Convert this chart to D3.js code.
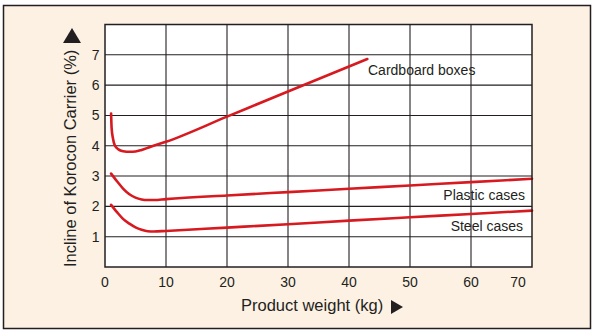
<!DOCTYPE html>
<html><head><meta charset="utf-8">
<script src="https://cdn.jsdelivr.net/npm/d3@7"></script>
<style>
html,body{margin:0;padding:0;background:#fff;}
svg{display:block;font-family:"Liberation Sans",Arial,sans-serif;}
</style></head>
<body><svg id="c" width="595" height="336"></svg>
<script>
// Data
const xTicks = [0,10,20,30,40,50,60,70];
const yTicks = [1,2,3,4,5,6,7];
const cardboardX = [1,1.08,1.3,1.6,2.2,3,4,5,6,7.4,10,20,30,43];
const cardboardY = [5.06,4.6,4.25,4.02,3.88,3.82,3.8,3.81,3.86,3.96,4.13,4.96,5.79,6.86];
const plasticX = [1,2,3,4,5,6,7,8,10,20,30,40,50,60,70];
const plasticY = [3.08,2.82,2.58,2.4,2.29,2.23,2.21,2.21,2.24,2.36,2.47,2.58,2.69,2.8,2.91];
const steelX = [1,2,3,4,5,6,7,8,10,20,30,40,50,60,70];
const steelY = [2.05,1.8,1.58,1.43,1.31,1.23,1.18,1.17,1.19,1.30,1.41,1.53,1.64,1.75,1.86];
const seriesNames = ["Cardboard boxes","Plastic cases","Steel cases"];
const xTitle = "Product weight (kg)";
const yTitle = "Incline of Korocon Carrier (%)";

const svg = d3.select("#c");
const ink = "#231f20", red = "#d71920";
const L=105, R=532, T=24.5, B=267;
const x = d3.scaleLinear().domain([0,70]).range([L,R]);
const y = d3.scaleLinear().domain([0,8]).range([B,T]);

svg.append("rect").attr("x",3.5).attr("y",5.5).attr("width",587).attr("height",323)
  .attr("fill","#fdf1e4").attr("stroke",ink).attr("stroke-width",1.5);
svg.append("rect").attr("x",L).attr("y",T).attr("width",R-L).attr("height",B-T).attr("fill","#fff");

// grid
const g = svg.append("g");
g.selectAll(".vx").data(xTicks.filter(d=>d>0&&d<70)).join("line")
  .attr("x1",d=>x(d)).attr("x2",d=>x(d)).attr("y1",T).attr("y2",B)
  .attr("stroke",ink).attr("stroke-width",1.1);
g.selectAll(".hy").data(yTicks).join("line")
  .attr("x1",L).attr("x2",R).attr("y1",d=>y(d)).attr("y2",d=>y(d))
  .attr("stroke",ink).attr("stroke-width",1.1);

// tick labels
svg.append("g").selectAll("text").data(xTicks).join("text")
  .attr("x",(d,i)=>x(d) + (d===70?-14:0)).attr("y",287)
  .attr("text-anchor","middle").attr("font-size",14).attr("fill",ink).text(d=>d);
svg.append("g").selectAll("text").data(yTicks).join("text")
  .attr("x",L-5.5).attr("y",d=>y(d)).attr("dy","0.36em")
  .attr("text-anchor","end").attr("font-size",14).attr("fill",ink).text(d=>d);

// curves
const line = d3.line().x(d=>x(d[0])).y(d=>y(d[1])).curve(d3.curveMonotoneX);
const sets = [[cardboardX,cardboardY],[plasticX,plasticY],[steelX,steelY]];
sets.forEach(([xs,ys])=>{
  svg.append("path").attr("d",line(xs.map((v,i)=>[v,ys[i]])))
    .attr("fill","none").attr("stroke",red).attr("stroke-width",2.6).attr("stroke-linecap","round");
});

// plot border
svg.append("rect").attr("x",L).attr("y",T).attr("width",R-L).attr("height",B-T)
  .attr("fill","none").attr("stroke",ink).attr("stroke-width",1.5);

// series labels
svg.append("text").attr("x",368).attr("y",75).attr("font-size",14).attr("fill",ink).text(seriesNames[0]);
svg.append("text").attr("x",525).attr("y",200).attr("text-anchor","end").attr("font-size",14).attr("fill",ink).text(seriesNames[1]);
svg.append("text").attr("x",523).attr("y",231).attr("text-anchor","end").attr("font-size",14).attr("fill",ink).text(seriesNames[2]);

// axis titles
svg.append("text").attr("x",241).attr("y",311).attr("font-size",16.5).attr("fill",ink).text(xTitle);
svg.append("path").attr("d","M391,300L403,307L391,314Z").attr("fill",ink);
svg.append("text").attr("transform","translate(76,267) rotate(-90)").attr("font-size",16.5).attr("fill",ink).text(yTitle);
svg.append("path").attr("d","M63,43L72,28L81,43Z").attr("fill",ink);
</script></body></html>
